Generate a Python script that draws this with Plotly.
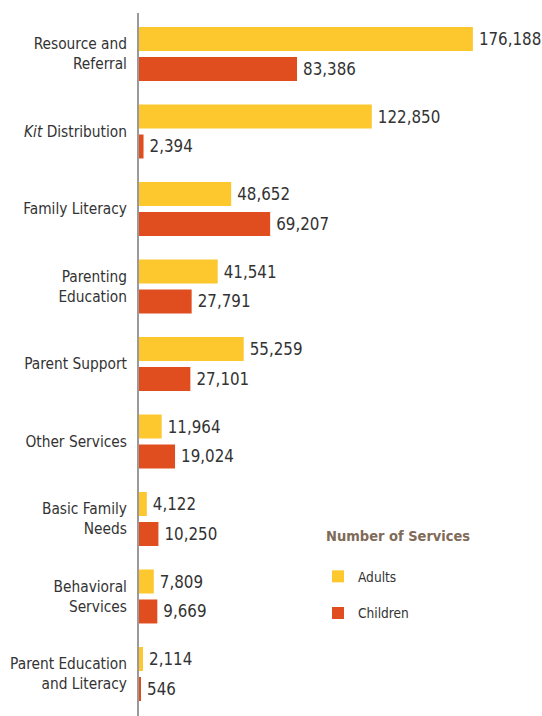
import plotly.graph_objects as go

# Service categories (top to bottom) and counts
categories = [
    "Resource and<br>Referral",
    "<i>Kit</i> Distribution",
    "Family Literacy",
    "Parenting<br>Education",
    "Parent Support",
    "Other Services",
    "Basic Family<br>Needs",
    "Behavioral<br>Services",
    "Parent Education<br>and Literacy",
]
adults = [176188, 122850, 48652, 41541, 55259, 11964, 4122, 7809, 2114]
children = [83386, 2394, 69207, 27791, 27101, 19024, 10250, 9669, 546]

FONT = "DejaVu Sans Condensed, DejaVu Sans, sans-serif"
YELLOW = "#FCC82E"
ORANGE = "#E04E1F"
TEXT = "#333333"

fig = go.Figure()
for name, vals, color in [("Adults", adults, YELLOW), ("Children", children, ORANGE)]:
    fig.add_trace(go.Bar(
        name=name,
        legendgroup=name,
        y=categories,
        x=vals,
        orientation="h",
        marker=dict(color=color, line=dict(width=0)),
        texttemplate="\u2009%{x:,}",
        textposition="outside",
        constraintext="none",
        cliponaxis=False,
        textfont=dict(family=FONT, size=16.8, color=TEXT),
        hoverinfo="skip",
    ))

fig.update_layout(
    width=542,
    height=716,
    margin=dict(l=139, r=0, t=13, b=0),
    paper_bgcolor="white",
    plot_bgcolor="white",
    barmode="group",
    bargap=0.226,
    bargroupgap=0.2,
    font=dict(family=FONT, color=TEXT),
    showlegend=True,
    legend=dict(
        font=dict(family=FONT, size=13.6, color=TEXT),
        x=(318 - 139) / 403,
        xanchor="left",
        y=(716 - 561) / 703,
        yanchor="top",
        traceorder="grouped",
        tracegroupgap=16,
        bgcolor="rgba(0,0,0,0)",
    ),
    annotations=[dict(
        text="<b>Number of Services</b>",
        xref="paper", yref="paper",
        x=(324 - 139) / 403, y=(716 - 536) / 703,
        xanchor="left", yanchor="middle",
        showarrow=False,
        font=dict(family=FONT, size=14.5, color="#7F6B57"),
    )],
    xaxis=dict(
        range=[0, 212665],
        visible=False,
        showgrid=False,
        zeroline=False,
    ),
    yaxis=dict(
        type="category",
        categoryorder="array",
        categoryarray=categories,
        range=[8.542, -0.529],
        automargin=False,
        showline=True,
        linecolor="#9A9A9A",
        linewidth=2,
        showgrid=False,
        zeroline=False,
        ticks="",
        ticklabelstandoff=7,
        tickfont=dict(family=FONT, size=15.3, color=TEXT),
    ),
)

fig.write_html("out.html")
